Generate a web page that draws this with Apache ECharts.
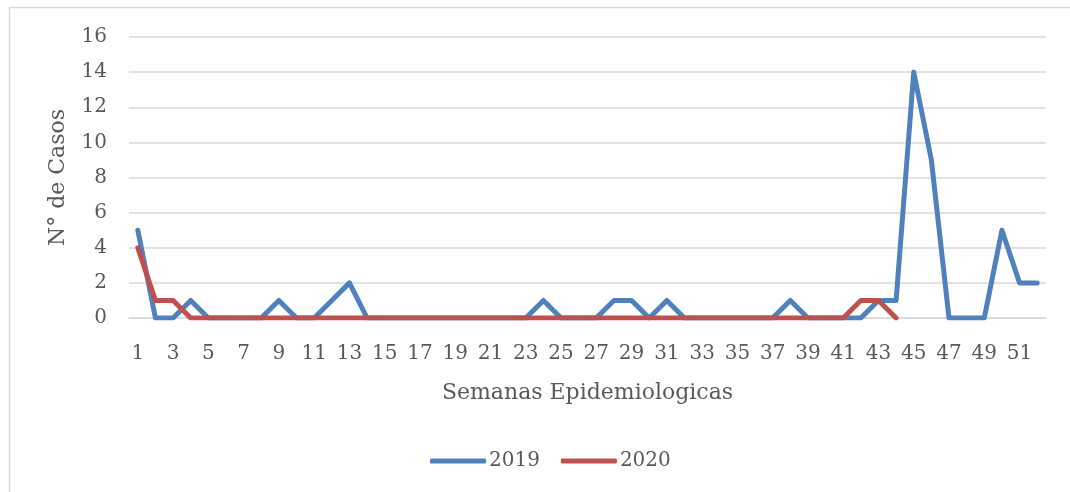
<!DOCTYPE html>
<html>
<head>
<meta charset="utf-8">
<script src="https://cdn.jsdelivr.net/npm/echarts@6/dist/echarts.min.js"></script>
<style>
html,body{margin:0;padding:0;background:#fff;}
#c{width:1070px;height:492px;}
</style>
</head>
<body>
<div id="c"></div>
<script>
var weeks = [];
for (var i = 1; i <= 52; i++) weeks.push(String(i));
var cases2019 = [5,0,0,1,0,0,0,0,1,0,0,1,2,0,0,0,0,0,0,0,0,0,0,1,0,0,0,1,1,0,1,0,0,0,0,0,0,1,0,0,0,0,1,1,14,9,0,0,0,5,2,2];
var cases2020 = [4,1,1,0,0,0,0,0,0,0,0,0,0,0,0,0,0,0,0,0,0,0,0,0,0,0,0,0,0,0,0,0,0,0,0,0,0,0,0,0,0,1,1,0];
var yTicks = {min: 0, max: 16, interval: 2};
var xName = 'Semanas Epidemiologicas';
var yName = 'N° de Casos';
var seriesNames = ['2019', '2020'];

var FONT = 'DejaVu Serif';
var TXT = '#595959';
var chart = echarts.init(document.getElementById('c'), null, {renderer: 'canvas'});
chart.setOption({
  animation: false,
  backgroundColor: '#fff',
  graphic: [{
    type: 'rect', silent: true, z: -1,
    shape: {x: 9.5, y: 7.5, width: 1100, height: 500},
    style: {fill: 'none', stroke: '#d9d9d9', lineWidth: 1.5}
  }],
  grid: {left: 129, right: 24, top: 37, bottom: 174, containLabel: false},
  legend: {
    data: seriesNames,
    bottom: 16,
    left: 425,
    icon: 'roundRect',
    itemWidth: 56,
    itemHeight: 5,
    itemGap: 21,
    textStyle: {fontFamily: FONT, fontSize: 20, color: TXT, padding: [0, 0, 0, -2]}
  },
  xAxis: {
    type: 'category',
    data: weeks,
    boundaryGap: true,
    name: xName,
    nameLocation: 'middle',
    nameGap: 64,
    nameTextStyle: {fontFamily: FONT, fontSize: 22, color: TXT},
    axisLine: {show: true, lineStyle: {color: '#d9d9d9', width: 1.5}},
    axisTick: {show: false},
    axisLabel: {interval: 1, fontFamily: FONT, fontSize: 20, color: TXT, margin: 26}
  },
  yAxis: {
    type: 'value',
    min: yTicks.min,
    max: yTicks.max,
    interval: yTicks.interval,
    name: yName,
    nameLocation: 'middle',
    nameGap: 60,
    nameTextStyle: {fontFamily: FONT, fontSize: 22, color: TXT},
    axisLine: {show: false},
    axisTick: {show: false},
    axisLabel: {fontFamily: FONT, fontSize: 20, color: TXT, margin: 22},
    splitLine: {lineStyle: {color: '#d9d9d9', width: 1.5}}
  },
  series: [
    {
      name: seriesNames[0], type: 'line', data: cases2019,
      symbol: 'none', color: '#4F81BD',
      lineStyle: {width: 5, color: '#4F81BD', cap: 'round', join: 'round'}
    },
    {
      name: seriesNames[1], type: 'line', data: cases2020,
      symbol: 'none', color: '#C0504D',
      lineStyle: {width: 5, color: '#C0504D', cap: 'round', join: 'round'}
    }
  ]
});
</script>
</body>
</html>
